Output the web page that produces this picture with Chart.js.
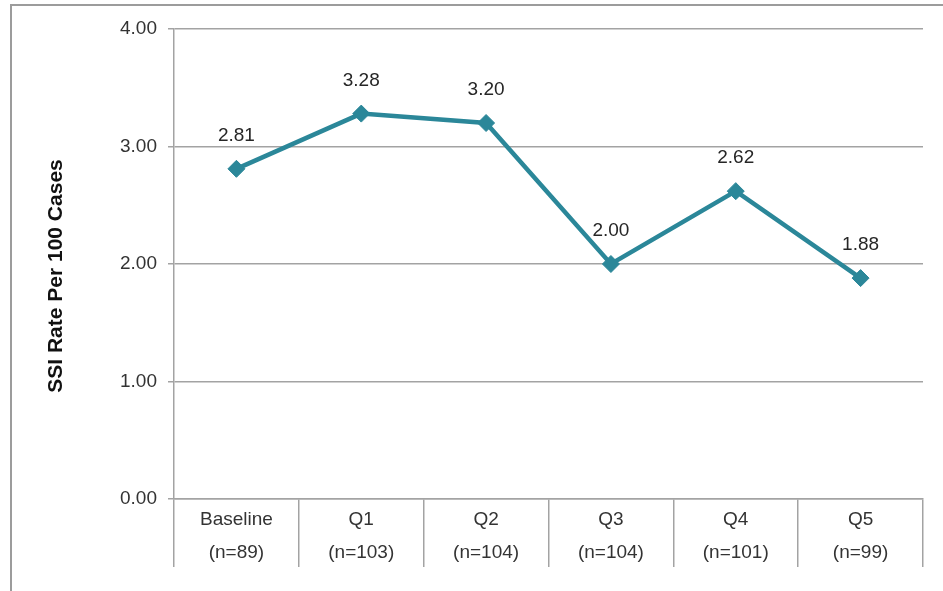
<!DOCTYPE html>
<html>
  <head>
    <title>SSI Rate</title>
    <script src="https://cdn.jsdelivr.net/npm/chart.js"></script>
    <style>
      body { margin: 0; background: #fff; }
    </style>
  </head>
  <body>
    <canvas id="ssiChart" width="943" height="591"></canvas>
    <script>
      const periods = ["Baseline", "Q1", "Q2", "Q3", "Q4", "Q5"];
      const caseCounts = [89, 103, 104, 104, 101, 99];
      const ssiRates = [2.81, 3.28, 3.2, 2.0, 2.62, 1.88];
      const yTitle = "SSI Rate Per 100 Cases";

      const lineColor = "#2b8799";
      const gridColor = "#a3a3a3";
      const font = "'Liberation Sans', Arial, sans-serif";

      // two-line category labels: period name and case count
      const labels = periods.map((p, i) => [p, "(n=" + caseCounts[i] + ")"]);

      // grey frame around the whole figure, plus the rotated y-axis title
      const framePlugin = {
        id: "frame",
        beforeDraw(chart) {
          const ctx = chart.ctx;
          ctx.save();
          ctx.fillStyle = "#fff";
          ctx.fillRect(0, 0, chart.width, chart.height);
          ctx.strokeStyle = "#9c9c9c";
          ctx.lineWidth = 2;
          ctx.strokeRect(11, 5, chart.width + 20, chart.height + 20);
          ctx.translate(56, 276);
          ctx.rotate(-Math.PI / 2);
          ctx.font = "bold 21px " + font;
          ctx.fillStyle = "#111";
          ctx.textAlign = "center";
          ctx.textBaseline = "middle";
          ctx.fillText(yTitle, 0, 0);
          ctx.restore();
        },
      };

      // value written above each point
      const valueLabels = {
        id: "valueLabels",
        afterDatasetsDraw(chart) {
          const ctx = chart.ctx;
          const meta = chart.getDatasetMeta(0);
          ctx.save();
          ctx.font = "19px " + font;
          ctx.fillStyle = "#262626";
          ctx.textAlign = "center";
          ctx.textBaseline = "middle";
          meta.data.forEach((pt, i) => {
            ctx.fillText(ssiRates[i].toFixed(2), pt.x, pt.y - 33);
          });
          ctx.restore();
        },
      };

      const ctx = document.getElementById("ssiChart").getContext("2d");
      new Chart(ctx, {
        type: "line",
        data: {
          labels: labels,
          datasets: [
            {
              data: ssiRates,
              borderColor: lineColor,
              backgroundColor: lineColor,
              borderWidth: 4.5,
              pointStyle: "rectRot",
              pointRadius: 8.5,
              pointBorderWidth: 1,
              tension: 0,
            },
          ],
        },
        options: {
          responsive: false,
          animation: false,
          layout: { padding: { top: 29, right: 20, left: 0, bottom: 0 } },
          plugins: {
            legend: { display: false },
            tooltip: { enabled: false },
          },
          scales: {
            x: {
              offset: true,
              grid: {
                offset: true,
                drawOnChartArea: false,
                drawTicks: true,
                tickLength: 68,
                color: gridColor,
                lineWidth: 1.5,
              },
              border: { display: true, color: gridColor, width: 1.5 },
              ticks: {
                padding: -63,
                maxRotation: 0,
                color: "#333",
                font: { family: font, size: 19, lineHeight: 1.7 },
              },
              afterFit(scale) {
                scale.height = 92;
              },
            },
            y: {
              min: 0,
              max: 4,
              ticks: {
                stepSize: 1,
                padding: 11,
                color: "#333",
                font: { family: font, size: 19 },
                callback: (v) => v.toFixed(2),
              },
              grid: {
                color: gridColor,
                lineWidth: 1.5,
                tickLength: 6,
              },
              border: { display: true, color: gridColor, width: 1.5 },
              afterFit(scale) {
                scale.width = 174;
              },
            },
          },
        },
        plugins: [framePlugin, valueLabels],
      });
    </script>
  </body>
</html>
